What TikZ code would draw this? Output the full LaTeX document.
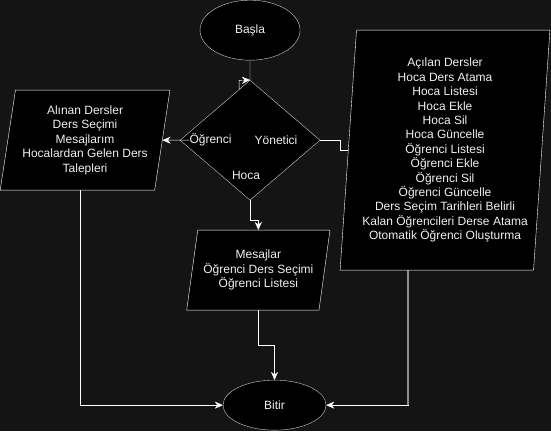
\documentclass[tikz,border=0pt]{standalone}
\usepackage{fontspec}
\setmainfont{Liberation Sans}
\usetikzlibrary{shapes.geometric,arrows.meta}
\definecolor{canvasBg}{HTML}{141414}
\definecolor{lineGray}{HTML}{8C8C8C}
\definecolor{textWhite}{HTML}{F0F0F0}
\pgfdeclarelayer{canvas}
\pgfdeclarelayer{edges}
\pgfsetlayers{canvas,edges,main}

\begin{document}
\begin{tikzpicture}
[x=1pt,y=-1pt,
  font=\fontsize{12pt}{14.4pt}\selectfont,
  termDecorate/.style={shape=ellipse,draw=textWhite!85!black,fill=black,text=textWhite,inner sep=0pt},
  ioDecorate/.style={shape=trapezium,trapezium stretches=true,draw=white,fill=black,text=textWhite,align=center,inner sep=0pt},
  decisionDecorate/.style={shape=diamond,draw=textWhite!85!black,fill=black,inner sep=0pt,minimum width=140pt,minimum height=120pt},
  lineDecorate/.style={-,white},
  arrowDecorate/.style={-{Stealth[length=8pt,width=7pt,inset=2.5pt]},white},
  labelDecorate/.style={text=textWhite,inner sep=0pt}]
%% canvas
\begin{pgfonlayer}{canvas}
  \fill[canvasBg] (0,0) rectangle (551,431);
\end{pgfonlayer}
%% nodes or vertices
\node (basla) at (250,30) [termDecorate,minimum width=100pt,minimum height=60pt] {Başla};
\node (secim) at (250,140) [decisionDecorate] {};
\node (ogrenciMenu) at (85,140) [ioDecorate,minimum width=170pt,minimum height=100pt,
  trapezium left angle=78.69,trapezium right angle=101.31]
  {Alınan Dersler\\Ders Seçimi\\Mesajlarım\\Hocalardan Gelen Ders\\Talepleri};
\node (yoneticiMenu) at (445,150) [ioDecorate,minimum width=210pt,minimum height=240pt,
  trapezium left angle=85.24,trapezium right angle=94.76]
  {Açılan Dersler\\Hoca Ders Atama\\Hoca Listesi\\Hoca Ekle\\Hoca Sil\\Hoca Güncelle\\
   Öğrenci Listesi\\Öğrenci Ekle\\Öğrenci Sil\\Öğrenci Güncelle\\
   Ders Seçim Tarihleri Belirli\\Kalan Öğrencileri Derse Atama\\Otomatik Öğrenci Oluşturma};
\node (hocaMenu) at (258.3,270) [ioDecorate,minimum width=143.3pt,minimum height=80pt,
  trapezium left angle=75.96,trapezium right angle=104.04]
  {Mesajlar\\Öğrenci Ders Seçimi\\Öğrenci Listesi};
\node (bitir) at (274.5,405) [termDecorate,minimum width=103pt,minimum height=50pt] {Bitir};
%% choice labels
\foreach \nodename/\x/\y/\txt in {
  lblOgrenci/210.5/140/Öğrenci, lblYonetici/276/140/Yönetici, lblHoca/246/175/Hoca}
{
  \node (\nodename) at (\x,\y) [labelDecorate] {\txt};
}
%% edges or lines
\begin{pgfonlayer}{edges}
  \draw[arrowDecorate] (basla.south) -- ++(0,28) -- ++(-11,0) -- ++(0,-8) -- (secim.north);
  \draw[lineDecorate] (secim.east) -- ++(20,0) |- (yoneticiMenu.west);
  \draw[arrowDecorate] (secim.south) -- ++(0,20) -| (hocaMenu.north);
  \draw[arrowDecorate] (hocaMenu.south) -- ++(0,35) -| (bitir.north);
  \draw[arrowDecorate] ([xshift=-5pt]ogrenciMenu.south) |- (bitir.west);
  \draw[arrowDecorate] ([xshift=-37pt]yoneticiMenu.south) coordinate (yonAlt) |- (bitir.east)
    coordinate[pos=0.5] (yonKose);
  \draw[lineGray,line width=2pt] (yonAlt) -- (yonKose);
\end{pgfonlayer}
\draw[arrowDecorate] (lblOgrenci.west) -- (ogrenciMenu.east);
\end{tikzpicture}
\end{document}
